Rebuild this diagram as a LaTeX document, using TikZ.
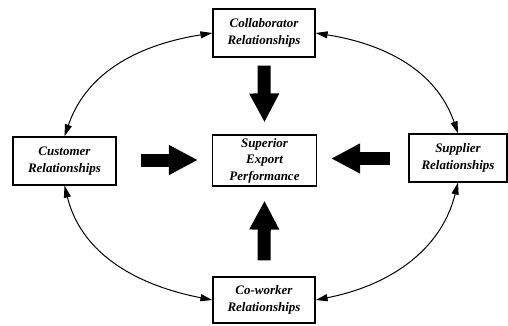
\documentclass[tikz,border=0pt]{standalone}
\usepackage{fontspec}
\setmainfont{Liberation Serif}
\usetikzlibrary{arrows.meta,calc}
\begin{document}
\begin{tikzpicture}[x=1pt,y=1pt,
  box/.style={draw, line width=1.2pt, inner sep=0pt, align=center,
    font=\fontsize{13}{16.5}\selectfont\bfseries\itshape},
  blockarrow/.style={line width=13pt, line cap=butt, -{Triangle[length=29pt,width=28pt]}},
  link/.style={line width=1pt, {Triangle[length=12pt,width=7pt]}-{Triangle[length=12pt,width=7pt]}}]
\useasboundingbox (0,0) rectangle (508,325);
\node[box, minimum width=102pt, minimum height=48pt] (collab) at (264,292) {Collaborator\\Relationships};
\node[box, minimum width=104pt, minimum height=51pt] (center) at (264.5,164.5) {Superior\\Export\\Performance};
\node[box, minimum width=103pt, minimum height=48pt] (cust) at (64.5,164) {Customer\\Relationships};
\node[box, minimum width=98pt, minimum height=48pt] (sup) at (458,167) {Supplier\\Relationships};
\node[box, minimum width=102pt, minimum height=46pt] (cowork) at (264,25) {Co-worker\\Relationships};
% block arrows
\draw[blockarrow] ($(collab.south)+(0,-8)$) -- ($(center.north)+(0,12)$);
\draw[blockarrow] ($(cowork.north)+(0,16)$) -- ($(center.south)+(0,-14)$);
\draw[blockarrow] ($(cust.east)+(24,1)$) -- ($(center.west)+(-14,0.5)$);
\draw[blockarrow] ($(sup.west)+(-18,-0.5)$) -- ($(center.east)+(14,2)$);
% curved links
\draw[link] (cust.north) to[out=71, in=189] (collab.west);
\draw[link] (collab.east) to[out=-9, in=109] (sup.north);
\draw[link] (sup.south) to[out=256, in=11] (cowork.east);
\draw[link] (cust.south) to[out=284, in=169] (cowork.west);
\end{tikzpicture}
\end{document}
